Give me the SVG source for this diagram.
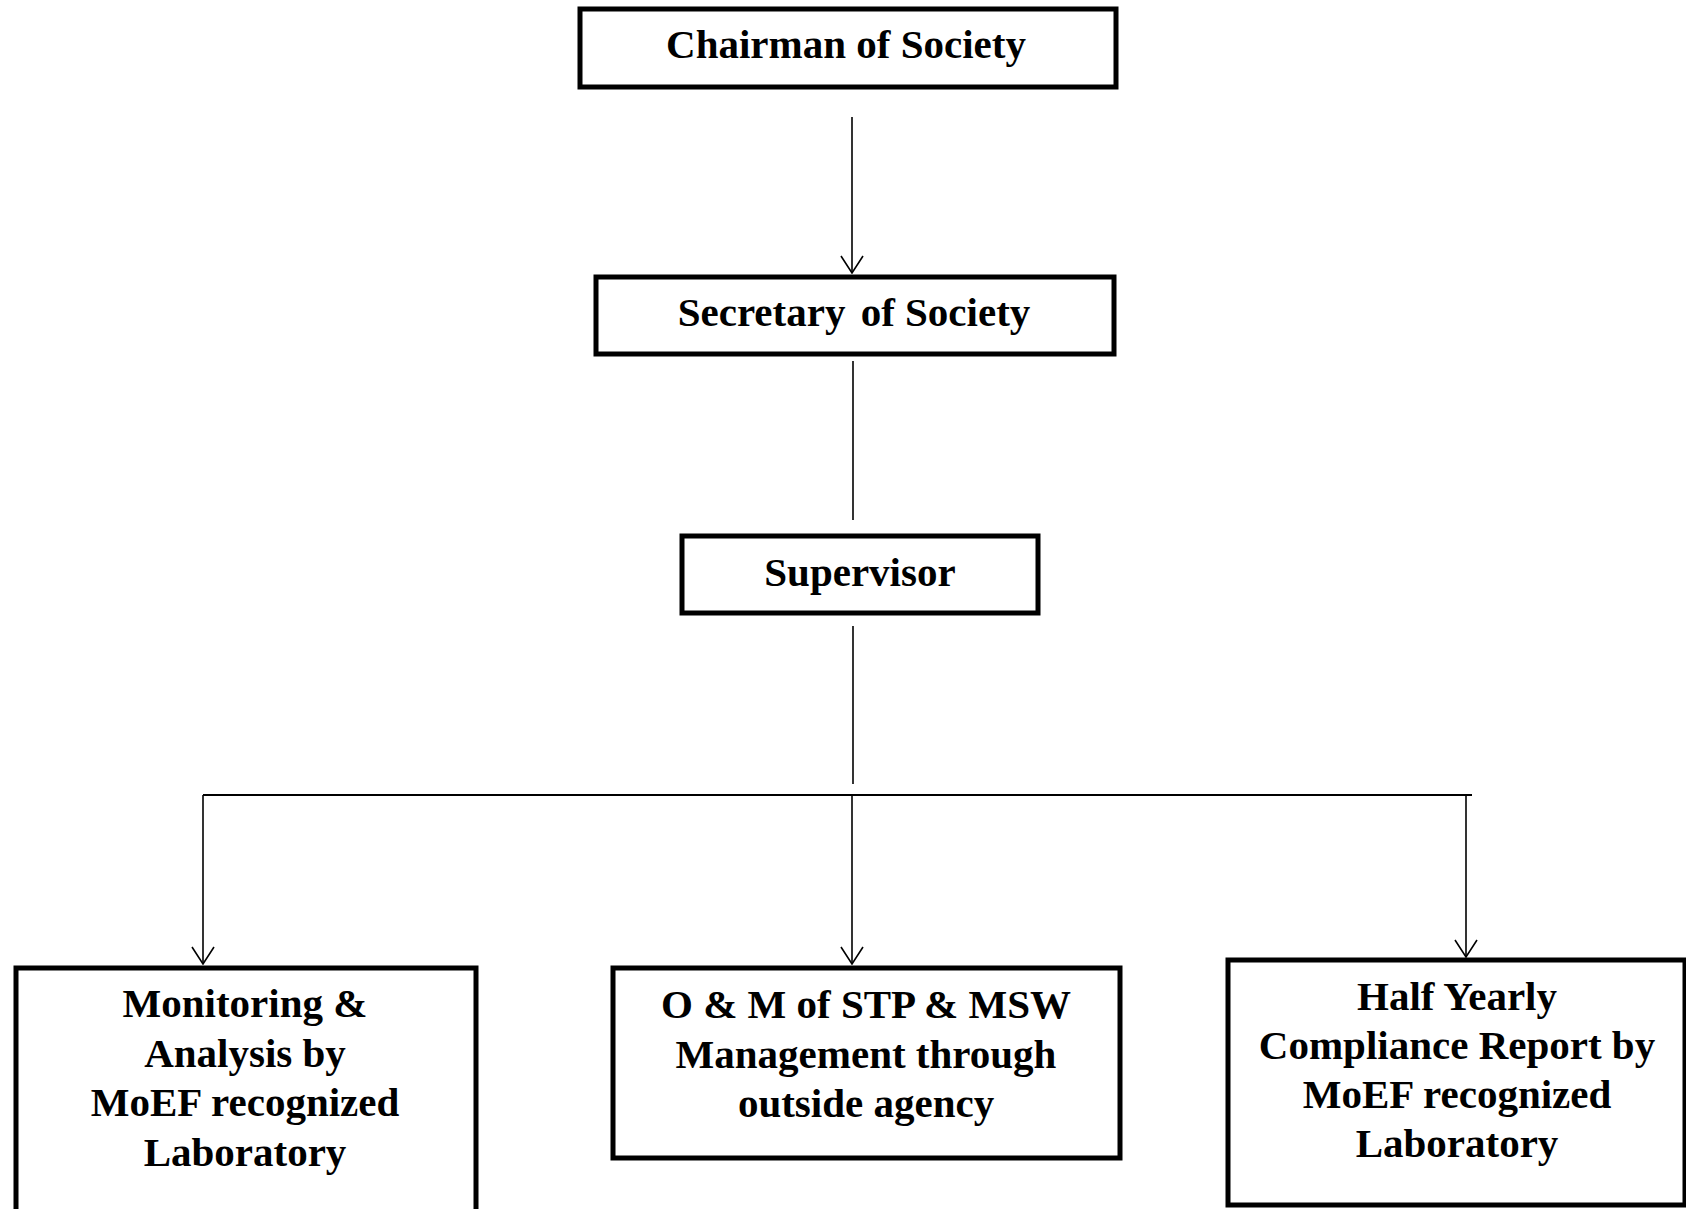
<svg xmlns="http://www.w3.org/2000/svg" width="1686" height="1209" viewBox="0 0 1686 1209">
<style>
.box{fill:#fff;stroke:#000;stroke-width:5}
.t{font-family:"Liberation Serif","Times New Roman",serif;font-weight:bold;font-size:41px;text-anchor:middle;fill:#000}
.c{stroke:#000;stroke-width:1.6;fill:none}
</style>
<defs>
<marker id="arr" viewBox="-1 -12 19 24" refX="17" refY="0" markerWidth="19" markerHeight="24" markerUnits="userSpaceOnUse" orient="auto">
<path d="M 0 -11 L 17 0 L 0 11" fill="none" stroke="#000" stroke-width="1.6"/>
</marker>
</defs>
<rect width="1686" height="1209" fill="#fff"/>
<g id="connectors">
<line class="c" x1="852" y1="117" x2="852" y2="273" marker-end="url(#arr)"/>
<line class="c" x1="853" y1="361" x2="853" y2="520"/>
<line class="c" x1="853" y1="626" x2="853" y2="784"/>
<line class="c" x1="203" y1="795" x2="1472" y2="795" style="stroke-width:2.2"/>
<line class="c" x1="203" y1="795" x2="203" y2="964" marker-end="url(#arr)"/>
<line class="c" x1="852" y1="795" x2="852" y2="964" marker-end="url(#arr)"/>
<line class="c" x1="1466" y1="795" x2="1466" y2="957" marker-end="url(#arr)"/>
</g>
<g id="chairman">
<rect class="box" x="580" y="9" width="536" height="78"/>
<text class="t" x="846" y="58">Chairman of Society</text>
</g>
<g id="secretary">
<rect class="box" x="596" y="277" width="518" height="77"/>
<text class="t" x="854" y="326">Secretary<tspan dx="5"> of Society</tspan></text>
</g>
<g id="supervisor">
<rect class="box" x="682" y="536" width="356" height="77"/>
<text class="t" x="860" y="586">Supervisor</text>
</g>
<g id="monitoring">
<rect class="box" x="16" y="968" width="460" height="260"/>
<text class="t" x="245" y="1017">Monitoring &amp;</text>
<text class="t" x="245" y="1067">Analysis by</text>
<text class="t" x="245" y="1116">MoEF recognized</text>
<text class="t" x="245" y="1166">Laboratory</text>
</g>
<g id="om">
<rect class="box" x="613" y="968" width="507" height="190"/>
<text class="t" x="866" y="1018">O &amp; M of STP &amp; MSW</text>
<text class="t" x="866" y="1068">Management through</text>
<text class="t" x="866" y="1117">outside agency</text>
</g>
<g id="compliance">
<rect class="box" x="1228" y="960" width="457" height="245"/>
<text class="t" x="1457" y="1010">Half Yearly</text>
<text class="t" x="1457" y="1059">Compliance Report by</text>
<text class="t" x="1457" y="1108">MoEF recognized</text>
<text class="t" x="1457" y="1157">Laboratory</text>
</g>
</svg>
